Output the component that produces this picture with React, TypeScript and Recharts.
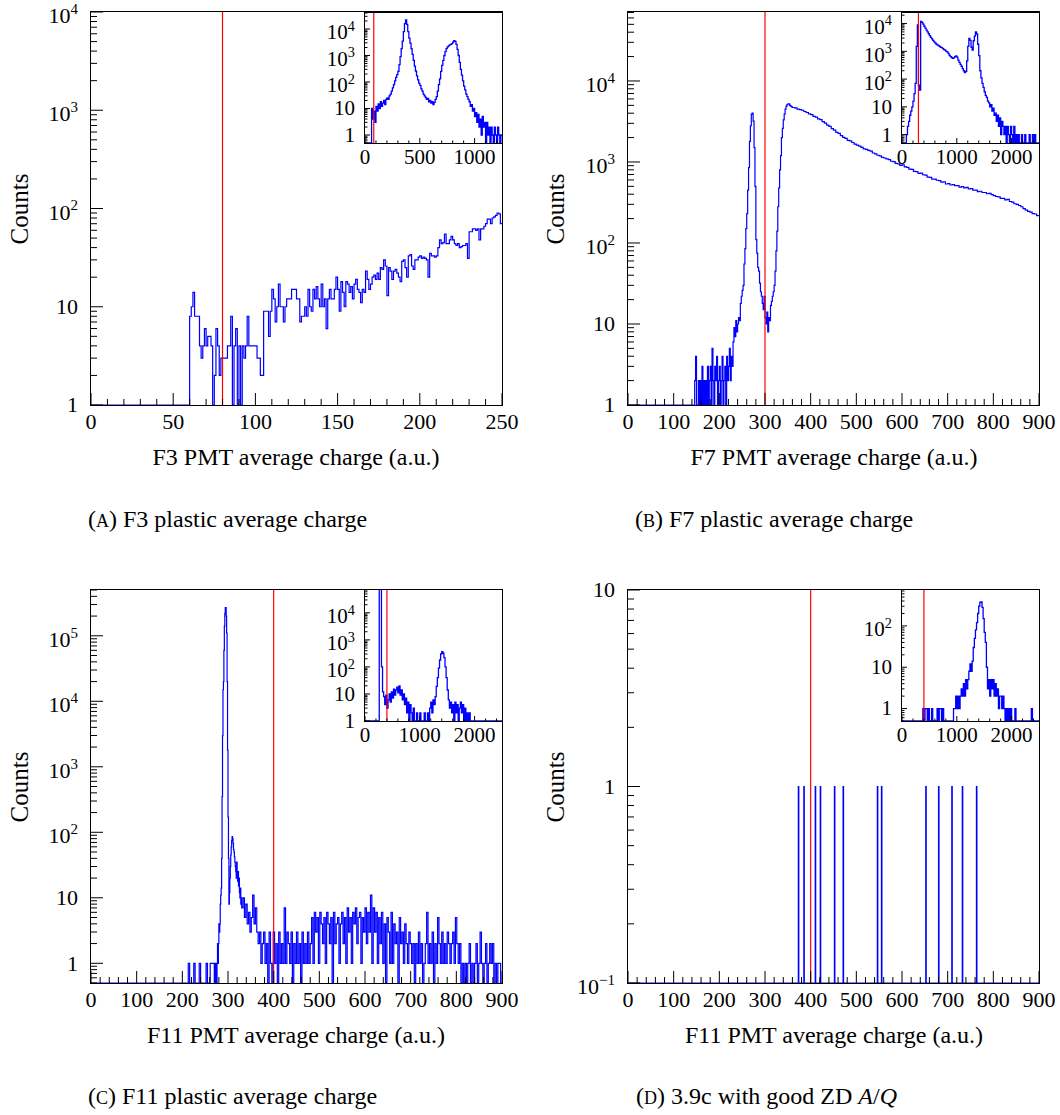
import React from "react";
import { LineChart, Line, XAxis, YAxis, ReferenceLine } from "recharts";

const FONT = "'Liberation Serif', 'Times New Roman', serif";

// ---------- (A) F3 plastic ----------
// main: 1 a.u. bins starting at 60 (empty below)
const f3Start = 60;
const f3Counts = [
  8, 10, 14, 8, 8, 8, 4, 3, 4, 6,
  4, 5, 5, 4, 0, 2, 6, 4, 2, 3,
  3, 3, 3, 4, 4, 8, 0, 4, 6, 0,
  4, 0, 4, 3, 4, 8, 4, 4, 4, 4,
  4, 3, 3, 2, 2, 9, 9, 9, 5, 9,
  15, 12, 7, 10, 17, 10, 10, 7, 10, 12,
  12, 12, 15, 15, 15, 12, 12, 7, 8, 8,
  10, 8, 15, 10, 9, 15, 12, 16, 12, 10,
  17, 10, 12, 6, 12, 15, 12, 12, 15, 20,
  15, 9, 18, 14, 10, 18, 17, 14, 16, 12,
  17, 19, 15, 14, 11, 15, 14, 23, 19, 15,
  17, 20, 21, 19, 22, 19, 25, 24, 30, 26,
  13, 25, 23, 19, 23, 24, 22, 20, 18, 29,
  30, 25, 20, 33, 34, 26, 24, 30, 30, 32,
  33, 31, 32, 31, 30, 20, 35, 33, 33, 32,
  33, 40, 48, 44, 45, 55, 44, 44,
  48, 52, 48, 44, 42, 44, 40, 41, 42, 42, 44, 31, 58, 58, 62, 62,
  60, 62, 48, 62, 62, 66, 70, 78, 78, 70, 80, 82, 85, 90, 88, 70,
];
// inset: 10 a.u. bins from 0
const f3WideCounts = [
  0, 0, 0, 0, 0, 0,
  10, 4, 8, 3, 12, 8, 15, 10, 18, 12, 16, 20, 14, 22,
  25, 22, 30, 35, 45, 60, 80, 110, 150, 190,
  250, 450, 900, 1800, 3500, 8000, 16000, 22000, 15000, 8000,
  4500, 2900, 1800, 1100, 650, 400, 260, 170, 120, 90,
  75, 55, 45, 35, 30, 26, 22, 24, 18, 20,
  16, 18, 14, 17, 22, 28, 45, 80, 130, 250,
  420, 650, 1000, 1400, 1800, 2100, 2300, 2500, 2600, 2800,
  3200, 3600, 3400, 2600, 1700, 1000, 550, 300, 180, 110,
  70, 50, 35, 28, 22, 18, 12, 14, 8, 10,
  5, 7, 3, 6, 2, 4, 1, 5, 2, 3,
  0, 3, 1, 2, 0, 2, 1, 0, 2, 1,
  0, 2, 1, 0, 1,
];

// ---------- (B) F7 plastic ----------
const f7LowStart = 140; // 2 a.u. bins
const f7LowCounts = [
  0, 0, 0, 2, 4, 0, 1, 2, 0, 2,
  1, 3, 0, 2, 1, 2, 0, 3, 1, 2,
  3, 1, 5, 2, 1, 3, 2, 4, 1, 2,
  3, 1, 2, 4, 1, 2, 3, 1, 4, 2,
  3, 5, 2, 4, 3, 6, 9, 7, 11, 8,
  10, 12, 11, 18, 22, 26, 30, 55, 85, 150,
  230, 450, 850, 1800, 2800, 3900, 4000, 3200, 1500, 500,
  110, 75, 50, 45, 32, 25, 22, 18, 15, 22,
  12, 10, 14, 8, 12, 11, 17, 19, 22, 25,
  30, 45, 80, 140, 280, 480, 800, 1200, 2000, 2600,
  3300, 3900, 4500, 4900, 5100, 5200, 5200, 5000, 4900, 4800,
];
const f7HighStart = 360; // 5 a.u. bins
const f7HighCounts = [
  4700, 4650, 4500, 4420, 4350, 4200, 4080, 3920, 3850, 3650,
  3580, 3400, 3330, 3150, 3020, 2850, 2750, 2580, 2470, 2320,
  2260, 2120, 2010, 1960, 1850, 1820, 1740, 1660, 1610, 1570,
  1510, 1450, 1430, 1390, 1360, 1290, 1260, 1210, 1190, 1140,
  1120, 1090, 1070, 1020, 1010, 960, 950, 910, 920, 870,
  860, 815, 810, 765, 760, 725, 730, 695, 690, 650,
  645, 615, 615, 595, 590, 565, 570, 535, 540, 520,
  525, 510, 510, 490, 495, 480, 485, 465, 470, 450,
  450, 430, 435, 420, 420, 405, 410, 395, 385, 375,
  370, 355, 355, 340, 345, 325, 320, 305, 300, 290,
  280, 265, 255, 245, 240, 230, 228, 218,
];
// inset: 20 a.u. bins from 0
const f7WideCounts = [
  0, 0, 0, 0, 1, 2, 3, 5, 7, 10,
  16, 30, 70, 1500, 9000, 60, 40, 12000, 11000, 9500,
  8000, 6800, 5800, 5000, 4300, 3700, 3200, 2800, 2500, 2200,
  2000, 1800, 1700, 1600, 1500, 1400, 1350, 1250, 1150, 1100,
  1000, 950, 850, 720, 640, 600, 560, 580, 640, 680,
  620, 480, 400, 340, 290, 240, 200, 170, 190, 450,
  1500, 2900, 2500, 1400, 1100, 2400, 3500, 5000, 4200, 1800,
  700, 200, 110, 70, 50, 35, 26, 22, 16, 14,
  10, 12, 7, 9, 5, 6, 3, 5, 2, 4,
  1, 3, 2, 1, 2, 0, 2, 1, 0, 2,
  1, 0, 2, 0, 1, 0, 1, 0, 0, 1,
  0, 0, 1, 0, 0, 0, 1, 0, 0, 1,
  0, 1, 0, 0, 0,
];

// ---------- (C) F11 plastic ----------
const f11LowStart = 201; // 3 a.u. bins
const f11LowCounts = [0, 0, 0, 0, 1, 0, 0, 0, 1, 0, 0, 0, 1, 0, 0, 0, 0, 1, 0, 0, 1, 1, 1];
const f11PeakStart = 270; // 1 a.u. bins
const f11PeakCounts = [
  0, 1, 0, 1, 0, 0, 1, 2, 1, 2,
  4, 3, 4, 8, 11, 14, 40, 350, 3000, 15000,
  20000, 60000, 140000, 220000, 270000, 270000, 200000, 110000, 20000, 1800,
  170, 40, 8, 12, 20, 30, 45, 60, 75, 86,
  80, 68, 55, 50, 42, 35, 30, 25, 20, 35,
  22, 18, 25, 15, 20, 12, 10, 14, 8, 10,
];
const f11TailStart = 330; // 3 a.u. bins
const f11TailCounts = [
  7, 10, 5, 8, 4, 6, 3, 5, 11, 4,
  7, 3, 2, 3, 1, 2, 3, 1, 2, 0,
  3, 1, 0, 3, 1, 2, 0, 3, 1, 2,
  1, 7, 1, 3, 2, 1, 3, 0, 2, 1,
  3, 1, 2, 0, 3, 1, 2, 1, 3, 1,
  2, 5, 1, 6, 3, 5, 1, 6, 4, 2,
  5, 1, 6, 4, 2, 5, 0, 6, 2, 4,
  5, 1, 4, 6, 2, 5, 1, 7, 3, 5,
  1, 6, 4, 7, 2, 5, 6, 1, 5, 3,
  7, 2, 6, 3, 11, 1, 7, 3, 6, 1,
  5, 2, 6, 1, 4, 0, 5, 3, 1, 6,
  1, 4, 2, 3, 0, 5, 2, 3, 1, 4,
  2, 1, 3, 2, 1, 2, 0, 2, 1, 3,
  1, 2, 0, 1, 2, 6, 1, 2, 1, 3,
  0, 2, 1, 5, 2, 1, 3, 1, 2, 1,
  3, 2, 1, 2, 3, 1, 5, 2, 1, 2,
  0, 1, 0, 1, 0, 1, 2, 0, 1, 0,
  1, 2, 0, 1, 3, 1, 0, 1, 2, 0,
  1, 2, 1, 2, 0, 1, 0, 1, 1, 0,
];
const f11WideCounts = [
  0, 0, 0, 0, 0, 0, 0, 0, 0, 0, 0, 0, 0,
  80000, 80000, 100, 12, 8, 4, 9, 3, 6, 10,
  5, 12, 7, 15, 9, 14, 18, 11, 20, 9,
  14, 6, 10, 4, 7, 2, 5, 1, 4, 2,
  0, 3, 1, 0, 2, 1, 0, 2, 0, 1,
  0, 2, 1, 0, 2, 1, 3, 5, 2, 6,
  4, 8, 19, 40, 90, 180, 300, 370, 320, 220,
  100, 40, 14, 6, 3, 5, 2, 4, 1, 5,
  2, 4, 1, 3, 5, 2, 4, 1, 3, 1,
  2, 1, 2, 1, 1, 0, 0, 0, 1, 0,
  0, 0, 0, 0, 0, 0, 0, 0, 0, 0, 0, 0, 0, 0, 0, 0, 0, 0, 0, 0, 0, 0,
];

// ---------- (D) 3.9c with good ZD A/Q ----------
const dHitCharges = [373, 385, 410, 421, 452, 471, 546, 555, 652, 680, 709, 732, 763];
const dHitCounts = [1, 1, 1, 1, 1, 1, 1, 1, 1, 1, 1, 1, 1];
const dWideCounts = [
  0, 0, 0, 0, 0, 0, 0, 0, 0, 0, 0, 0, 0, 0, 0, 0, 0, 0, 0,
  1, 0, 1, 1, 0, 1, 0, 0, 1, 0,
  0, 0, 0, 1, 0, 1, 1, 0, 1, 0,
  0, 0, 0, 0, 0, 0, 0, 0, 1, 1,
  2, 1, 2, 1, 2, 3, 2, 4, 2, 5,
  3, 5, 8, 12, 8, 14, 30, 50, 80, 120,
  200, 300, 370, 380, 280, 150, 70, 40, 10, 3,
  5, 2, 5, 3, 5, 2, 4, 2, 3, 1,
  2, 2, 1, 2, 1, 0, 1, 0, 1, 0,
  1, 0, 0, 0, 1, 0, 0, 0, 0, 0,
  0, 0, 0, 0, 0, 0, 0, 0, 0, 1,
  0, 0, 0, 0, 0, 0,
];

type Pt = { x: number; y: number };
type Seg = { start: number; width: number; counts: number[] };

// bin contents -> step points (empty bins sit on the bottom of the log axis)
function steps(segs: Seg[], floor: number): Pt[] {
  const pts: Pt[] = [];
  segs.forEach((s) =>
    s.counts.forEach((c, i) => pts.push({ x: s.start + i * s.width, y: Math.max(c, floor) }))
  );
  const last = segs[segs.length - 1];
  pts.push({ x: last.start + last.counts.length * last.width, y: pts[pts.length - 1].y });
  return pts;
}

function spikes(pos: number[], counts: number[], floor: number, xMax: number): Pt[] {
  const pts: Pt[] = [{ x: 0, y: floor }];
  pos.forEach((p, i) => {
    pts.push({ x: p, y: Math.max(counts[i], floor) });
    pts.push({ x: p + 1, y: floor });
  });
  pts.push({ x: xMax, y: floor });
  return pts;
}

const range = (a: number, b: number, s: number) => {
  const out: number[] = [];
  for (let v = a; v <= b + 1e-9; v += s) out.push(v);
  return out;
};

const MULTS = [1, 2, 3, 4, 5, 6, 7, 8, 9];
function logTicks([lo, hi]: [number, number]) {
  const out: number[] = [];
  for (let d = Math.floor(Math.log10(lo)); d <= Math.floor(Math.log10(hi)); d++)
    for (const m of MULTS) {
      const v = +(m * Math.pow(10, d)).toPrecision(6);
      if (v >= lo * 0.9999 && v <= hi * 1.0001) out.push(v);
    }
  return out;
}

const xTick = (majorStep: number, fs: number, len: number, gap: number) => (p: any) => {
  const v = p.payload.value;
  const major = Math.abs(v % majorStep) < 1e-6;
  return (
    <g>
      <line x1={p.x} x2={p.x} y1={p.y} y2={p.y - (major ? len : len / 2)} stroke="#000" strokeWidth={1} />
      {major && (
        <text x={p.x} y={p.y + gap} dy="0.71em" textAnchor="middle" fontSize={fs} fontFamily={FONT} fill="#000">
          {v}
        </text>
      )}
    </g>
  );
};

const yTick = (fs: number, len: number, gap: number) => (p: any) => {
  const v = p.payload.value;
  const lg = Math.log10(v);
  const k = Math.round(lg);
  const major = Math.abs(lg - k) < 1e-6;
  const plain = k === 0 || k === 1;
  return (
    <g>
      <line x1={p.x} x2={p.x + (major ? len : len / 2)} y1={p.y} y2={p.y} stroke="#000" strokeWidth={1} />
      {major && (
        <text x={p.x - gap} y={p.y} dy={plain ? "0.33em" : "0.5em"} textAnchor="end" fontSize={fs} fontFamily={FONT} fill="#000">
          {k === 0 ? "1" : k === 1 ? "10" : (
            <>
              10
              <tspan dy={-fs * 0.42} fontSize={fs * 0.68}>
                {k < 0 ? `\u2212${-k}` : k}
              </tspan>
            </>
          )}
        </text>
      )}
    </g>
  );
};

interface HistProps {
  plot: [number, number, number, number];
  data: Pt[];
  xDomain: [number, number];
  yDomain: [number, number];
  xTicks: number[];
  xMajor: number;
  cut: number;
  small?: boolean;
}

function Hist({ plot, data, xDomain, yDomain, xTicks, xMajor, cut, small }: HistProps) {
  const [left, top, w, h] = plot;
  const m = small ? { l: 52, r: 21, t: 12, b: 32 } : { l: 80, r: 20, t: 14, b: 42 };
  const fs = small ? 21 : 22;
  const len = small ? 5 : 12;
  return (
    <>
      <div
        style={{
          position: "absolute",
          left: left - 0.75,
          top: top - 0.75,
          width: w + 1.5,
          height: h + 1.5,
          border: "1.5px solid #000",
          boxSizing: "border-box",
        }}
      />
      <div style={{ position: "absolute", left: left - m.l, top: top - m.t }}>
        <LineChart
          width={w + m.l + m.r}
          height={h + m.t + m.b}
          data={data}
          margin={{ top: m.t, right: m.r, bottom: 0, left: 0 }}
        >
          <XAxis
            dataKey="x"
            type="number"
            domain={xDomain}
            allowDataOverflow
            ticks={xTicks}
            interval={0}
            tickSize={0}
            tickMargin={0}
            axisLine={false}
            tickLine={false}
            height={m.b}
            tick={xTick(xMajor, fs, len, small ? 6 : 8)}
          />
          <YAxis
            type="number"
            scale="log"
            domain={yDomain}
            allowDataOverflow
            ticks={logTicks(yDomain)}
            interval={0}
            tickSize={0}
            tickMargin={0}
            axisLine={false}
            tickLine={false}
            width={m.l}
            tick={yTick(fs, len, small ? 10 : 13)}
          />
          <Line
            type="stepAfter"
            dataKey="y"
            stroke="#0000ff"
            strokeWidth={small ? 1.3 : 1.2}
            dot={false}
            isAnimationActive={false}
          />
          <ReferenceLine x={cut} stroke="#ff0000" strokeWidth={1.2} />
        </LineChart>
      </div>
    </>
  );
}

const f3Main = steps([{ start: 0, width: f3Start, counts: [0] }, { start: f3Start, width: 1, counts: f3Counts }], 1);
const f3Wide = steps([{ start: 0, width: 10, counts: f3WideCounts }], 0.5);
const f7Main = steps(
  [
    { start: 0, width: f7LowStart, counts: [0] },
    { start: f7LowStart, width: 2, counts: f7LowCounts },
    { start: f7HighStart, width: 5, counts: f7HighCounts },
  ],
  1
);
const f7Wide = steps([{ start: 0, width: 20, counts: f7WideCounts }], 0.5);
const f11Main = steps(
  [
    { start: 0, width: f11LowStart, counts: [0] },
    { start: f11LowStart, width: 3, counts: f11LowCounts },
    { start: f11PeakStart, width: 1, counts: f11PeakCounts },
    { start: f11TailStart, width: 3, counts: f11TailCounts },
  ],
  0.5
);
const f11Wide = steps([{ start: 0, width: 20, counts: f11WideCounts }], 1);
const dMain = spikes(dHitCharges, dHitCounts, 0.1, 900);
const dWide = steps([{ start: 0, width: 20, counts: dWideCounts }], 0.5);

const ticks250 = range(0, 250, 10);
const ticks900 = range(0, 900, 20);
const ticks1250 = range(0, 1200, 100);
const ticks2500 = range(0, 2400, 200);

const Cap = ({ x, y, letter, children }: { x: number; y: number; letter: string; children: React.ReactNode }) => (
  <text x={x} y={y} fontSize={24} fill="#000">
    (<tspan fontSize={18}>{letter}</tspan>) {children}
  </text>
);

export default function App() {
  return (
    <div style={{ position: "absolute", left: 0, top: 0, width: 1060, height: 1115, background: "#fff", overflow: "hidden" }}>
      <svg width={1060} height={1115} style={{ position: "absolute", left: 0, top: 0 }} fontFamily={FONT}>
        <text x={296} y={465} textAnchor="middle" fontSize={24}>F3 PMT average charge (a.u.)</text>
        <text x={834} y={465} textAnchor="middle" fontSize={24}>F7 PMT average charge (a.u.)</text>
        <text x={296} y={1043} textAnchor="middle" fontSize={24}>F11 PMT average charge (a.u.)</text>
        <text x={834} y={1043} textAnchor="middle" fontSize={24}>F11 PMT average charge (a.u.)</text>
        <text transform="translate(28,209) rotate(-90)" textAnchor="middle" fontSize={25}>Counts</text>
        <text transform="translate(564,209) rotate(-90)" textAnchor="middle" fontSize={25}>Counts</text>
        <text transform="translate(28,787) rotate(-90)" textAnchor="middle" fontSize={25}>Counts</text>
        <text transform="translate(564,787) rotate(-90)" textAnchor="middle" fontSize={25}>Counts</text>
        <Cap x={88} y={527} letter="A">F3 plastic average charge</Cap>
        <Cap x={635} y={527} letter="B">F7 plastic average charge</Cap>
        <Cap x={88} y={1104} letter="C">F11 plastic average charge</Cap>
        <Cap x={636} y={1104} letter="D">
          3.9c with good ZD <tspan fontStyle="italic">A</tspan>/<tspan fontStyle="italic">Q</tspan>
        </Cap>
      </svg>

      <Hist plot={[91, 12, 411, 393]} data={f3Main} xDomain={[0, 250]} yDomain={[1, 10000]} xTicks={ticks250} xMajor={50} cut={80} />
      <Hist plot={[365, 13, 137, 130]} data={f3Wide} xDomain={[0, 1250]} yDomain={[0.5, 40000]} xTicks={ticks1250} xMajor={500} cut={80} small />

      <Hist plot={[628, 12, 411, 393]} data={f7Main} xDomain={[0, 900]} yDomain={[1, 71000]} xTicks={ticks900} xMajor={100} cut={300} />
      <Hist plot={[902, 13, 137, 130]} data={f7Wide} xDomain={[0, 2500]} yDomain={[0.5, 24000]} xTicks={ticks2500} xMajor={1000} cut={300} small />

      <Hist plot={[91, 590, 411, 393]} data={f11Main} xDomain={[0, 900]} yDomain={[0.5, 500000]} xTicks={ticks900} xMajor={100} cut={400} />
      <Hist plot={[365, 590, 137, 131]} data={f11Wide} xDomain={[0, 2500]} yDomain={[1, 70000]} xTicks={ticks2500} xMajor={1000} cut={400} small />

      <Hist plot={[628, 590, 411, 393]} data={dMain} xDomain={[0, 900]} yDomain={[0.1, 10]} xTicks={ticks900} xMajor={100} cut={400} />
      <Hist plot={[902, 590, 137, 131]} data={dWide} xDomain={[0, 2500]} yDomain={[0.5, 740]} xTicks={ticks2500} xMajor={1000} cut={400} small />
    </div>
  );
}
